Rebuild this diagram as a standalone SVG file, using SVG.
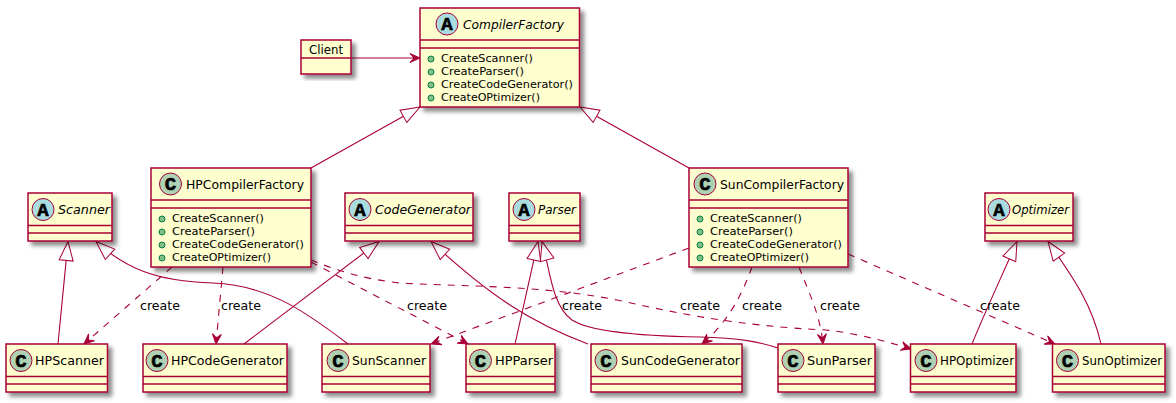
<svg xmlns="http://www.w3.org/2000/svg" width="1176" height="403" viewBox="0 0 1176 403">
<style>
.b{fill:#FEFECE;stroke:#A80036;stroke-width:1.5;filter:url(#sh)}
.d{stroke:#A80036;stroke-width:1.5;fill:none}
.ca{fill:#A9DCDF;stroke:#A80036;stroke-width:1}
.cc{fill:#ADD1B2;stroke:#A80036;stroke-width:1}
.g{font-family:"Liberation Mono",monospace;font-weight:bold;font-size:19px;fill:#000;text-anchor:middle;stroke:#000;stroke-width:.6}
.n{font-family:"DejaVu Sans",sans-serif;font-size:13px;fill:#000}
.i{font-style:italic}
.m{font-family:"DejaVu Sans",sans-serif;font-size:11px;fill:#000}
.p{fill:#84BE84;stroke:#038048;stroke-width:1}
.l{font-family:"DejaVu Sans",sans-serif;font-size:13px;fill:#000}
.e{stroke:#A80036;stroke-width:1.1;fill:none;marker-end:url(#tri)}
.u{stroke:#A80036;stroke-width:1.1;fill:none;stroke-dasharray:7,7;marker-end:url(#arr)}
.s{stroke:#A80036;stroke-width:1.1;fill:none;marker-end:url(#arr)}
</style>
<defs>
<filter id="sh" x="-20%" y="-20%" width="140%" height="140%"><feDropShadow dx="4" dy="4" stdDeviation="2" flood-color="#000" flood-opacity=".45"/></filter>
<marker id="tri" markerUnits="userSpaceOnUse" markerWidth="22" markerHeight="18" refX="19" refY="8" orient="auto" overflow="visible"><path d="M19,8 L0,1 L0,15 Z" fill="#FFFFFF" stroke="#A80036" stroke-width="1"/></marker>
<marker id="arr" markerUnits="userSpaceOnUse" markerWidth="12" markerHeight="12" refX="10" refY="5" orient="auto" overflow="visible"><path d="M10,5 L0,0.5 L4,5 L0,9.5 Z" fill="#A80036" stroke="#A80036" stroke-width="1"/></marker>
</defs>
<g id="connectors">
<path class="s" d="M351,58 L420,58"/>
<path class="e" d="M311,168 L420,107"/>
<path class="e" d="M689,168 L580,107"/>
<path class="e" d="M58,344 L68,241.5"/>
<path class="e" d="M348,344 C310,315 270,285 213,283 C155,281 125,268 96,241.5"/>
<path class="e" d="M244,344 L379,241.5"/>
<path class="e" d="M588,344 C530,322 490,296 431,241.5"/>
<path class="e" d="M515,344 L538,241.5"/>
<path class="e" d="M778,348 C760,342 740,338 700,337 C640,336 590,332 572,320 C552,306 550,270 542,241.5"/>
<path class="e" d="M972,344 C985,312 1000,280 1017,241.5"/>
<path class="e" d="M1101,344 C1092,305 1075,280 1048,241.5"/>
<path class="u" d="M172,267 L84,344"/>
<path class="u" d="M223,267 L216,344"/>
<path class="u" d="M311,262 L468,344"/>
<path class="u" d="M311,260 C340,272 370,280 400,283 C470,287 540,285 617,300 C680,314 740,326 826,330 C855,333 885,341 911,349"/>
<path class="u" d="M689,248 L431,344"/>
<path class="u" d="M752,267 C742,295 728,322 702,344"/>
<path class="u" d="M799,267 C810,295 820,315 823,344"/>
<path class="u" d="M848,254 L1055,344"/>
</g>
<g id="labels">
<text class="l" x="140" y="310" textLength="40" lengthAdjust="spacingAndGlyphs">create</text>
<text class="l" x="221" y="310" textLength="40" lengthAdjust="spacingAndGlyphs">create</text>
<text class="l" x="407" y="310" textLength="40" lengthAdjust="spacingAndGlyphs">create</text>
<text class="l" x="562" y="310" textLength="40" lengthAdjust="spacingAndGlyphs">create</text>
<text class="l" x="680" y="310" textLength="40" lengthAdjust="spacingAndGlyphs">create</text>
<text class="l" x="742" y="310" textLength="40" lengthAdjust="spacingAndGlyphs">create</text>
<text class="l" x="820" y="310" textLength="40" lengthAdjust="spacingAndGlyphs">create</text>
<text class="l" x="980" y="310" textLength="40" lengthAdjust="spacingAndGlyphs">create</text>
</g>
<g id="Client">
<rect class="b" x="301" y="40" width="50" height="34"/><path class="d" d="M301,58H351"/>
<text class="n" x="309" y="54" textLength="34" lengthAdjust="spacingAndGlyphs">Client</text>
</g>
<g id="CompilerFactory">
<rect class="b" x="420" y="8" width="159.500" height="99"/><path class="d" d="M420,40H579.500M420,48H579.500"/>
<circle class="ca" cx="447" cy="24" r="11"/><text class="g" x="447" y="30">A</text>
<text class="n i" x="463" y="28.500" textLength="101" lengthAdjust="spacingAndGlyphs">CompilerFactory</text>
<circle class="p" cx="431" cy="59" r="3"/><text class="m" x="441" y="62" textLength="92" lengthAdjust="spacingAndGlyphs">CreateScanner()</text>
<circle class="p" cx="431" cy="72" r="3"/><text class="m" x="441" y="75" textLength="83" lengthAdjust="spacingAndGlyphs">CreateParser()</text>
<circle class="p" cx="431" cy="85" r="3"/><text class="m" x="441" y="88" textLength="132" lengthAdjust="spacingAndGlyphs">CreateCodeGenerator()</text>
<circle class="p" cx="431" cy="98" r="3"/><text class="m" x="441" y="101" textLength="99" lengthAdjust="spacingAndGlyphs">CreateOPtimizer()</text>
</g>
<g id="HPCompilerFactory">
<rect class="b" x="151" y="168" width="160" height="99"/><path class="d" d="M151,200H311M151,208H311"/>
<circle class="cc" cx="170.500" cy="184" r="11"/><text class="g" x="170.500" y="190">C</text>
<text class="n" x="186" y="188.500" textLength="118" lengthAdjust="spacingAndGlyphs">HPCompilerFactory</text>
<circle class="p" cx="162" cy="219" r="3"/><text class="m" x="172" y="222" textLength="92" lengthAdjust="spacingAndGlyphs">CreateScanner()</text>
<circle class="p" cx="162" cy="232" r="3"/><text class="m" x="172" y="235" textLength="83" lengthAdjust="spacingAndGlyphs">CreateParser()</text>
<circle class="p" cx="162" cy="245" r="3"/><text class="m" x="172" y="248" textLength="132" lengthAdjust="spacingAndGlyphs">CreateCodeGenerator()</text>
<circle class="p" cx="162" cy="258" r="3"/><text class="m" x="172" y="261" textLength="99" lengthAdjust="spacingAndGlyphs">CreateOPtimizer()</text>
</g>
<g id="SunCompilerFactory">
<rect class="b" x="689" y="168" width="159" height="99"/><path class="d" d="M689,200H848M689,208H848"/>
<circle class="cc" cx="705" cy="184" r="11"/><text class="g" x="705" y="190">C</text>
<text class="n" x="720" y="188.500" textLength="124" lengthAdjust="spacingAndGlyphs">SunCompilerFactory</text>
<circle class="p" cx="700" cy="219" r="3"/><text class="m" x="710" y="222" textLength="92" lengthAdjust="spacingAndGlyphs">CreateScanner()</text>
<circle class="p" cx="700" cy="232" r="3"/><text class="m" x="710" y="235" textLength="83" lengthAdjust="spacingAndGlyphs">CreateParser()</text>
<circle class="p" cx="700" cy="245" r="3"/><text class="m" x="710" y="248" textLength="132" lengthAdjust="spacingAndGlyphs">CreateCodeGenerator()</text>
<circle class="p" cx="700" cy="258" r="3"/><text class="m" x="710" y="261" textLength="99" lengthAdjust="spacingAndGlyphs">CreateOPtimizer()</text>
</g>
<g id="Scanner">
<rect class="b" x="28" y="193" width="84" height="48"/><path class="d" d="M28,225.500H112M28,233H112"/>
<circle class="ca" cx="43" cy="209.500" r="11"/><text class="g" x="43" y="215.500">A</text>
<text class="n i" x="58" y="214" textLength="52" lengthAdjust="spacingAndGlyphs">Scanner</text>
</g>
<g id="CodeGenerator">
<rect class="b" x="345" y="193" width="128" height="48"/><path class="d" d="M345,225.500H473M345,233H473"/>
<circle class="ca" cx="360" cy="209.500" r="11"/><text class="g" x="360" y="215.500">A</text>
<text class="n i" x="375" y="214" textLength="96" lengthAdjust="spacingAndGlyphs">CodeGenerator</text>
</g>
<g id="Parser">
<rect class="b" x="509" y="193" width="71" height="48"/><path class="d" d="M509,225.500H580M509,233H580"/>
<circle class="ca" cx="524" cy="209.500" r="11"/><text class="g" x="524" y="215.500">A</text>
<text class="n i" x="538" y="214" textLength="38" lengthAdjust="spacingAndGlyphs">Parser</text>
</g>
<g id="Optimizer">
<rect class="b" x="985" y="193" width="88" height="48"/><path class="d" d="M985,225.500H1073M985,233H1073"/>
<circle class="ca" cx="999" cy="209.500" r="11"/><text class="g" x="999" y="215.500">A</text>
<text class="n i" x="1012" y="214" textLength="57" lengthAdjust="spacingAndGlyphs">Optimizer</text>
</g>
<g id="HPScanner">
<rect class="b" x="6" y="344" width="101.500" height="48"/><path class="d" d="M6,376.500H107.500M6,384H107.500"/>
<circle class="cc" cx="21" cy="360.500" r="11"/><text class="g" x="21" y="366.500">C</text>
<text class="n" x="35" y="364.500" textLength="69" lengthAdjust="spacingAndGlyphs">HPScanner</text>
</g>
<g id="HPCodeGenerator">
<rect class="b" x="143" y="344" width="144" height="48"/><path class="d" d="M143,376.500H287M143,384H287"/>
<circle class="cc" cx="157" cy="360.500" r="11"/><text class="g" x="157" y="366.500">C</text>
<text class="n" x="171" y="364.500" textLength="113" lengthAdjust="spacingAndGlyphs">HPCodeGenerator</text>
</g>
<g id="SunScanner">
<rect class="b" x="322" y="344" width="108" height="48"/><path class="d" d="M322,376.500H430M322,384H430"/>
<circle class="cc" cx="338" cy="360.500" r="11"/><text class="g" x="338" y="366.500">C</text>
<text class="n" x="352" y="364.500" textLength="74" lengthAdjust="spacingAndGlyphs">SunScanner</text>
</g>
<g id="HPParser">
<rect class="b" x="466" y="344" width="89" height="48"/><path class="d" d="M466,376.500H555M466,384H555"/>
<circle class="cc" cx="480.500" cy="360.500" r="11"/><text class="g" x="480.500" y="366.500">C</text>
<text class="n" x="495" y="364.500" textLength="58" lengthAdjust="spacingAndGlyphs">HPParser</text>
</g>
<g id="SunCodeGenerator">
<rect class="b" x="591" y="344" width="151" height="48"/><path class="d" d="M591,376.500H742M591,384H742"/>
<circle class="cc" cx="606" cy="360.500" r="11"/><text class="g" x="606" y="366.500">C</text>
<text class="n" x="621" y="364.500" textLength="119" lengthAdjust="spacingAndGlyphs">SunCodeGenerator</text>
</g>
<g id="SunParser">
<rect class="b" x="778" y="344" width="97" height="48"/><path class="d" d="M778,376.500H875M778,384H875"/>
<circle class="cc" cx="793" cy="360.500" r="11"/><text class="g" x="793" y="366.500">C</text>
<text class="n" x="807" y="364.500" textLength="65" lengthAdjust="spacingAndGlyphs">SunParser</text>
</g>
<g id="HPOptimizer">
<rect class="b" x="910.500" y="344" width="105.500" height="48"/><path class="d" d="M910.500,376.500H1016M910.500,384H1016"/>
<circle class="cc" cx="926" cy="360.500" r="11"/><text class="g" x="926" y="366.500">C</text>
<text class="n" x="940" y="364.500" textLength="74" lengthAdjust="spacingAndGlyphs">HPOptimizer</text>
</g>
<g id="SunOptimizer">
<rect class="b" x="1052.500" y="344" width="112.500" height="48"/><path class="d" d="M1052.500,376.500H1165M1052.500,384H1165"/>
<circle class="cc" cx="1067.500" cy="360.500" r="11"/><text class="g" x="1067.500" y="366.500">C</text>
<text class="n" x="1082" y="364.500" textLength="80" lengthAdjust="spacingAndGlyphs">SunOptimizer</text>
</g>
</svg>
